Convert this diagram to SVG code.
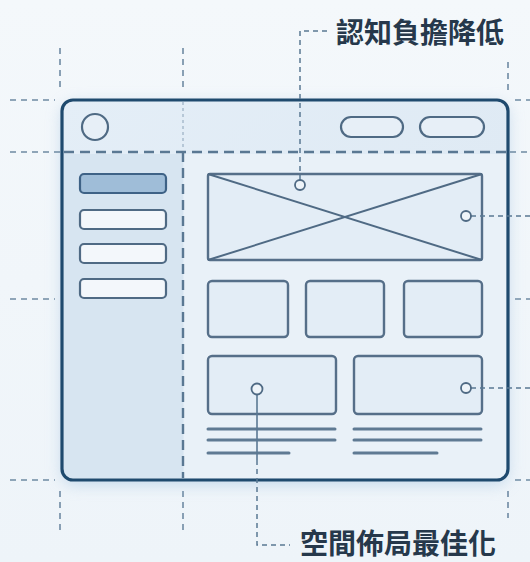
<svg xmlns="http://www.w3.org/2000/svg" width="530" height="562" viewBox="0 0 530 562">
  <defs>
    <linearGradient id="bg" x1="0" y1="0" x2="0" y2="1">
      <stop offset="0" stop-color="#f4f8fb"/>
      <stop offset="1" stop-color="#eef4f9"/>
    </linearGradient>
    <linearGradient id="winfill" x1="0" y1="0" x2="1" y2="1">
      <stop offset="0" stop-color="#e4eef7"/>
      <stop offset="1" stop-color="#dbe7f2"/>
    </linearGradient>
    <filter id="glow" x="-20%" y="-20%" width="140%" height="140%">
      <feGaussianBlur stdDeviation="8"/>
    </filter>
    <style>
      .guide { fill: none; stroke: #6f8aa3; stroke-width: 1.6; stroke-dasharray: 6 5; }
      .guideIn { fill: none; stroke: #5a7893; stroke-width: 2.4; stroke-dasharray: 10 6; }
      .leader { fill: none; stroke: #5a7893; stroke-width: 1.5; stroke-dasharray: 5 4; }
      .box { fill: #e3edf6; stroke: #566f89; stroke-width: 2.4; }
      .pill { fill: #e7eff7; stroke: #4f6a84; stroke-width: 2.2; }
      .nav { fill: #f3f7fb; stroke: #4f6a84; stroke-width: 2.2; }
      .navOn { fill: #9fbdd8; stroke: #3e6286; stroke-width: 2.2; }
      .line { stroke: #5f7a93; stroke-width: 3; stroke-linecap: round; }
      .marker { fill: #eef4f9; stroke: #4f6a84; stroke-width: 1.8; }
      .label { font-family: "Noto Sans CJK TC", "Noto Sans CJK SC", sans-serif; font-weight: 700; font-size: 28px; fill: #26384b; }
    </style>
  </defs>

  <rect width="530" height="562" fill="url(#bg)"/>

  <!-- outer guides -->
  <g id="guides">
    <line class="guide" x1="10" y1="100" x2="55" y2="100"/>
    <line class="guide" x1="515" y1="100" x2="530" y2="100"/>
    <line class="guide" x1="10" y1="299" x2="55" y2="299"/>
    <line class="guide" x1="515" y1="299" x2="530" y2="299"/>
    <line class="guide" x1="10" y1="480" x2="55" y2="480"/>
    <line class="guide" x1="515" y1="480" x2="530" y2="480"/>
    <line class="guide" x1="60" y1="48" x2="60" y2="90"/>
    <line class="guide" x1="183" y1="48" x2="183" y2="90"/>
    <line class="guide" x1="508" y1="62" x2="508" y2="90"/>
    <line class="guide" x1="60" y1="491" x2="60" y2="535"/>
    <line class="guide" x1="183" y1="491" x2="183" y2="535"/>
    <line class="guide" x1="508" y1="491" x2="508" y2="518"/>
  </g>

  <!-- window -->
  <g id="window">
    <rect x="62" y="104" width="446" height="380" rx="12" fill="#9fc0df" opacity="0.55" filter="url(#glow)"/>
    <rect x="62" y="100" width="446" height="380" rx="11" fill="url(#winfill)"/>
    <rect x="64" y="154" width="119" height="324" fill="#d7e5f1"/>
    <rect x="184" y="154" width="322" height="324" fill="#e9f1f8"/>
    <rect x="62" y="100" width="446" height="380" rx="11" fill="none" stroke="#1f4a6e" stroke-width="3.2"/>
  </g>

  <g id="window-guides">
    <line class="guide" x1="10" y1="152" x2="62" y2="152"/>
    <line class="guideIn" x1="64" y1="152" x2="506" y2="152"/>
    <line class="guide" x1="510" y1="152" x2="530" y2="152"/>
    <line class="guideIn" x1="183" y1="152" x2="183" y2="478"/>
    <line x1="183" y1="102" x2="183" y2="150" stroke="#8aa2b8" stroke-width="1" stroke-dasharray="3 3"/>
  </g>

  <g id="header">
    <circle cx="95" cy="127" r="13" fill="#e7eff7" stroke="#4f6a84" stroke-width="2.2"/>
    <rect class="pill" x="341" y="117" width="62" height="20" rx="10"/>
    <rect class="pill" x="420" y="117" width="64" height="20" rx="10"/>
  </g>

  <g id="sidebar">
    <rect class="navOn" x="80" y="174" width="86" height="19" rx="4"/>
    <rect class="nav" x="80" y="210" width="86" height="19" rx="4"/>
    <rect class="nav" x="80" y="244" width="86" height="19" rx="4"/>
    <rect class="nav" x="80" y="279" width="86" height="19" rx="4"/>
  </g>

  <g id="hero">
    <rect class="box" x="208" y="174" width="274" height="86" rx="2"/>
    <line x1="208" y1="174" x2="482" y2="260" stroke="#4f6a84" stroke-width="2"/>
    <line x1="482" y1="174" x2="208" y2="260" stroke="#4f6a84" stroke-width="2"/>
  </g>

  <g id="cards">
    <rect class="box" x="208" y="281" width="80" height="56" rx="4"/>
    <rect class="box" x="306" y="281" width="78" height="56" rx="4"/>
    <rect class="box" x="404" y="281" width="78" height="56" rx="4"/>
  </g>

  <g id="lower">
    <rect class="box" x="208" y="356" width="128" height="58" rx="4"/>
    <rect class="box" x="354" y="356" width="128" height="58" rx="4"/>
    <line class="line" x1="208" y1="429" x2="335" y2="429"/>
    <line class="line" x1="208" y1="440" x2="335" y2="440"/>
    <line class="line" x1="208" y1="453" x2="289" y2="453"/>
    <line class="line" x1="354" y1="429" x2="481" y2="429"/>
    <line class="line" x1="354" y1="440" x2="481" y2="440"/>
    <line class="line" x1="354" y1="453" x2="437" y2="453"/>
  </g>

  <g id="connectors">
    <polyline class="leader" points="300,180 300,31 328,31"/>
    <line class="leader" x1="471" y1="216" x2="530" y2="216"/>
    <line class="leader" x1="471" y1="388" x2="530" y2="388"/>
    <line x1="257" y1="395" x2="257" y2="460" stroke="#5a7893" stroke-width="1.6"/>
    <polyline class="leader" points="257,460 257,545 290,545"/>
  </g>

  <g id="markers">
    <circle class="marker" cx="300" cy="185" r="5"/>
    <circle class="marker" cx="466" cy="216" r="5"/>
    <circle class="marker" cx="257" cy="389" r="5.5"/>
    <circle class="marker" cx="466" cy="388" r="5"/>
  </g>

  <g id="label-cognitive">
    <text class="label" x="336" y="43">認知負擔降低</text>
  </g>
  <g id="label-space">
    <text class="label" x="300" y="554">空間佈局最佳化</text>
  </g>
</svg>
